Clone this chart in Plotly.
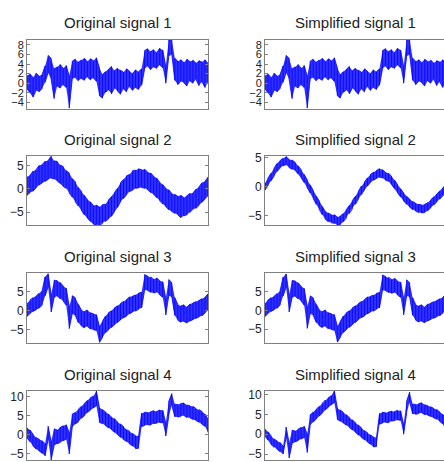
import plotly.graph_objects as go

# ---------------- data (upper / lower envelope of each noisy signal) ----------------
s1_hi = [1.6, 1.9, 1.2, 2.1, 1.5, 1.8, 3.6, 5.8, 5.2, 3.0,
         3.4, 3.9, 3.1, 3.7, 1.5, 4.6, 5.0, 4.4, 4.8, 5.2,
         4.5, 5.1, 4.7, 5.3, 3.2, 1.8, 2.4, 2.9, 3.5, 2.6,
         3.1, 2.7, 2.3, 3.0, 2.5, 2.0, 2.8, 2.4, 3.0, 6.8,
         7.2, 6.6, 7.0, 6.4, 7.3, 6.9, 3.5, 9.0, 9.1, 5.2,
         4.6, 4.9, 4.3, 5.0, 4.5, 4.8, 4.2, 4.7, 4.4, 4.9, 4.1]
s1_lo = [-1.2, -2.0, -2.9, -1.5, -1.8, -1.1, 0.2, 2.2, 0.8, -3.2,
         -0.6, -1.0, -0.3, -0.9, -5.2, 0.9, 1.2, 0.5, 1.0, 0.6,
         1.3, 0.7, 1.1, 0.4, -2.6, -3.1, -1.9, -1.4, -2.2, -1.0,
         -1.6, -2.3, -1.2, -1.8, -0.7, -1.5, -0.9, -1.3, -0.4, 3.0,
         3.6, 2.8, 3.4, 3.1, 3.8, 3.2, 0.0, 5.6, 6.0, 0.6,
         -0.3, 0.4, 0.1, -0.6, 0.5, 0.0, 0.8, -0.5, 0.3, -0.9, 0.2]

s2_hi = [2.6, 2.9, 3.8, 4.1, 5.0, 5.2, 5.9, 6.1, 7.0, 6.0,
         5.9, 5.1, 4.8, 3.9, 3.4, 2.2, 1.5, 0.3, -0.5, -1.4,
         -2.3, -2.8, -3.6, -3.5, -3.9, -3.4, -3.3, -2.4, -1.7, -0.8,
         0.1, 1.3, 2.0, 2.8, 3.1, 3.9, 4.0, 4.3, 4.1, 4.2,
         3.6, 3.4, 2.7, 2.3, 1.4, 0.9, 0.1, -0.2, -1.0, -1.2,
         -1.6, -1.4, -1.9, -1.5, -1.0, -0.9, -0.1, 0.4, 1.3, 1.6, 2.5]
s2_lo = [-1.4, -0.8, -0.5, 0.2, 0.8, 1.3, 1.6, 2.0, 2.3, 2.1,
         1.7, 1.2, 0.5, 0.1, -0.9, -1.8, -2.8, -3.7, -4.6, -5.6,
         -6.3, -7.0, -7.6, -7.7, -7.8, -7.5, -7.0, -6.5, -5.9, -4.9,
         -4.0, -2.8, -2.1, -1.3, -0.6, -0.3, 0.1, 0.2, 0.3, 0.1,
         -0.2, -0.8, -1.2, -1.9, -2.6, -3.3, -3.8, -4.5, -4.9, -5.3,
         -5.6, -6.2, -5.8, -5.6, -5.1, -4.4, -4.2, -3.6, -2.9, -2.2, -1.6]

s2s_hi = [0.6, 1.5, 2.3, 3.2, 4.0, 4.5, 4.9, 5.2, 4.7, 4.6,
          4.2, 3.6, 2.9, 2.1, 1.2, 0.3, -0.7, -1.7, -2.5, -3.5,
          -4.3, -4.6, -4.9, -4.9, -5.3, -5.1, -4.7, -4.0, -3.3, -2.4,
          -1.7, -0.8, 0.1, 0.8, 1.5, 2.1, 2.5, 2.8, 3.1, 2.9,
          2.5, 2.3, 1.8, 1.1, 0.3, -0.4, -1.1, -1.7, -2.2, -2.6,
          -2.9, -3.1, -3.2, -3.1, -2.8, -2.3, -1.8, -1.3, -0.8, -0.2, 0.3]
s2s_lo = [-0.6, 0.1, 1.0, 1.8, 2.6, 3.2, 3.6, 3.8, 3.3, 3.0,
          2.8, 2.2, 1.5, 0.7, -0.2, -1.1, -2.1, -3.1, -4.0, -4.9,
          -5.7, -6.1, -6.3, -6.4, -6.7, -6.6, -6.1, -5.5, -4.7, -3.9,
          -3.1, -2.2, -1.4, -0.6, 0.1, 0.7, 1.1, 1.4, 1.6, 1.5,
          1.1, 0.9, 0.4, -0.3, -1.1, -1.8, -2.5, -3.1, -3.6, -4.0,
          -4.3, -4.5, -4.6, -4.5, -4.2, -3.7, -3.2, -2.7, -2.2, -1.6, -1.1]

s3_hi = [1.9, 2.8, 3.4, 3.8, 4.5, 5.2, 8.9, 9.8, 4.2, 8.0,
         7.9, 7.4, 6.5, 5.9, 1.0, 3.9, 3.4, 1.6, 0.2, -0.3,
         0.1, -0.6, -0.9, -1.1, -4.2, -2.9, -1.5, -0.6, -0.1, 0.7,
         1.2, 1.9, 2.4, 2.9, 3.6, 3.8, 4.1, 4.6, 4.8, 9.5,
         9.1, 8.9, 8.3, 8.6, 7.9, 7.6, 3.2, 8.2, 7.4, 3.4,
         1.6, 1.2, 1.5, 0.9, 1.7, 2.0, 2.3, 2.6, 3.1, 3.5, 4.4]
s3_lo = [-1.6, -0.8, -0.2, 0.2, 0.6, 1.4, 3.9, 6.2, -0.4, 3.4,
         3.8, 3.1, 2.5, 1.4, -4.8, -0.9, -1.3, -3.2, -4.1, -4.6,
         -4.2, -4.9, -5.1, -5.3, -8.5, -7.2, -5.9, -5.2, -4.5, -3.8,
         -3.2, -2.5, -1.9, -1.5, -0.9, -0.4, -0.2, 0.3, 0.7, 5.4,
         5.3, 4.8, 4.6, 4.9, 4.1, 3.5, -1.2, 3.9, 3.6, -1.3,
         -2.6, -3.1, -2.9, -3.3, -2.7, -2.4, -2.1, -1.7, -1.4, -0.7, 0.0]

s4_hi = [1.8, 1.2, 0.1, -0.8, -1.2, -1.6, -2.4, 2.2, -1.8, 1.5,
         1.2, 1.9, 2.3, 2.6, 0.5, 5.4, 5.8, 6.7, 7.4, 8.2,
         9.0, 9.7, 10.1, 11.5, 7.1, 6.6, 6.0, 5.4, 4.6, 4.2,
         3.3, 2.8, 2.1, 1.3, 0.9, 0.3, -0.3, -0.4, 5.6, 5.9,
         5.8, 6.0, 6.3, 6.1, 6.5, 6.4, 3.0, 8.8, 10.8, 8.0,
         7.9, 8.2, 8.3, 7.8, 7.6, 7.4, 6.9, 6.6, 6.1, 5.4, 4.1]
s4_lo = [-0.9, -1.9, -3.0, -3.8, -4.3, -4.9, -5.6, -1.2, -6.7, -2.9,
         -2.4, -2.1, -1.6, -1.2, -5.1, 1.9, 2.8, 3.3, 4.3, 4.9,
         5.8, 6.4, 7.0, 7.6, 3.2, 2.9, 2.4, 1.8, 1.3, 0.6,
         0.0, -0.7, -1.3, -1.8, -2.5, -3.0, -3.7, -3.6, 2.1, 2.4,
         2.6, 2.5, 2.9, 3.0, 3.2, 3.1, -0.4, 4.8, 7.8, 4.7,
         4.6, 4.8, 5.0, 4.5, 4.4, 4.0, 3.7, 3.3, 2.7, 2.2, 0.6]

s4s_hi = [1.3, 0.6, -0.4, -1.2, -1.7, -2.1, -3.0, 1.8, -2.2, 1.0,
          0.8, 1.3, 1.7, 2.0, 0.0, 4.9, 5.5, 6.3, 7.0, 7.8,
          8.6, 9.2, 9.7, 11.0, 6.6, 6.1, 5.5, 4.9, 4.2, 3.6,
          2.9, 2.3, 1.6, 0.9, 0.4, -0.2, -0.7, -0.8, 5.2, 5.5,
          5.4, 5.6, 5.8, 5.7, 6.0, 5.9, 2.5, 8.3, 10.6, 7.6,
          7.5, 7.7, 7.9, 7.4, 7.2, 6.9, 6.5, 6.2, 5.6, 5.0, 3.6]
s4s_lo = [-0.5, -1.5, -2.6, -3.3, -3.8, -4.4, -5.0, -0.8, -6.0, -2.4,
          -1.9, -1.6, -1.2, -0.8, -4.6, 2.3, 3.1, 3.8, 4.6, 5.3,
          6.1, 6.8, 7.4, 8.0, 3.7, 3.3, 2.8, 2.3, 1.7, 1.1,
          0.5, -0.2, -0.8, -1.4, -2.0, -2.5, -3.2, -3.1, 2.5, 2.8,
          3.0, 2.9, 3.3, 3.4, 3.6, 3.5, 0.0, 5.3, 8.2, 5.1,
          5.0, 5.2, 5.4, 4.9, 4.8, 4.5, 4.1, 3.8, 3.2, 2.6, 1.0]

titles = ["Original signal 1", "Simplified signal 1",
          "Original signal 2", "Simplified signal 2",
          "Original signal 3", "Simplified signal 3",
          "Original signal 4", "Simplified signal 4"]
y_ranges = [[-5.3, 9.1], [-5.3, 9.1],
            [-7.8, 7.05], [-6.7, 5.3],
            [-8.5, 9.8], [-8.6, 9.9],
            [-6.7, 11.5], [-6.5, 10.9]]
y_dticks = [2, 2, 5, 5, 5, 5, 5, 5]
series = [(s1_hi, s1_lo), (s1_hi, s1_lo),
          (s2_hi, s2_lo), (s2s_hi, s2s_lo),
          (s3_hi, s3_lo), (s3_hi, s3_lo),
          (s4_hi, s4_lo), (s4s_hi, s4s_lo)]

# ---------------- layout geometry ----------------
W, H = 444, 462
rows_px = [(35, 105), (153, 223), (272, 342), (391, 461)]
cols_px = [(27, 208), (265, 444)]
FONT = "Arial, Liberation Sans, sans-serif"
BLUE = "#0000ff"
AXC = "#808080"

fig = go.Figure()
annotations = []
for k in range(8):
    r, c = divmod(k, 2)
    idx = k + 1
    xs = "x" if idx == 1 else f"x{idx}"
    ys = "y" if idx == 1 else f"y{idx}"
    hi, lo = series[k]
    n = len(hi)
    pos = list(range(n))
    # band between envelopes
    fig.add_trace(go.Scatter(x=pos + pos[::-1], y=list(hi) + list(lo)[::-1],
                             fill="toself", fillcolor="rgba(20,20,255,0.88)",
                             line=dict(width=0), mode="lines", hoverinfo="skip",
                             xaxis=xs, yaxis=ys, showlegend=False))
    # noisy trace alternating between the envelopes
    zx, zy = [], []
    for i in range(n):
        a, b = (hi[i], lo[i]) if i % 2 == 0 else (lo[i], hi[i])
        zx += [pos[i], pos[i]]
        zy += [a, b]
    fig.add_trace(go.Scatter(x=zx, y=zy, mode="lines",
                             line=dict(color=BLUE, width=0.8),
                             xaxis=xs, yaxis=ys, showlegend=False))
    x0, x1 = cols_px[c]
    y0, y1 = rows_px[r]
    fig.layout[f"xaxis{idx}"] = dict(
        domain=[x0 / W, x1 / W], range=[0, n - 1] if c == 0 else [0, (n - 1) * 0.99],
        showline=True, mirror=True, linecolor=AXC, linewidth=1,
        showticklabels=False, ticks="", showgrid=False, zeroline=False,
        anchor=ys)
    fig.layout[f"yaxis{idx}"] = dict(
        domain=[1 - y1 / H, 1 - y0 / H], range=y_ranges[k],
        tick0=0, dtick=y_dticks[k], ticks="inside", ticklen=3, tickcolor=AXC,
        showline=True, mirror="ticks" if c == 0 else False,
        linecolor=AXC, linewidth=1, showgrid=False, zeroline=False,
        tickfont=dict(family=FONT, size=11 if r == 0 else 12, color="#222222"),
        anchor=xs)
    annotations.append(dict(
        text=titles[k], x=(x0 + (x0 + 181)) / 2 / W, y=1 - (y0 - 17) / H,
        xref="paper", yref="paper", xanchor="center", yanchor="middle",
        showarrow=False, font=dict(family=FONT, size=15, color="#222222")))

fig.update_layout(width=W, height=H, margin=dict(l=0, r=0, t=0, b=0),
                  paper_bgcolor="white", plot_bgcolor="white",
                  showlegend=False, annotations=annotations)
fig.write_html("out.html", config={"displayModeBar": False},
               post_script="document.body.style.margin='0px';document.body.style.overflow='hidden';")
